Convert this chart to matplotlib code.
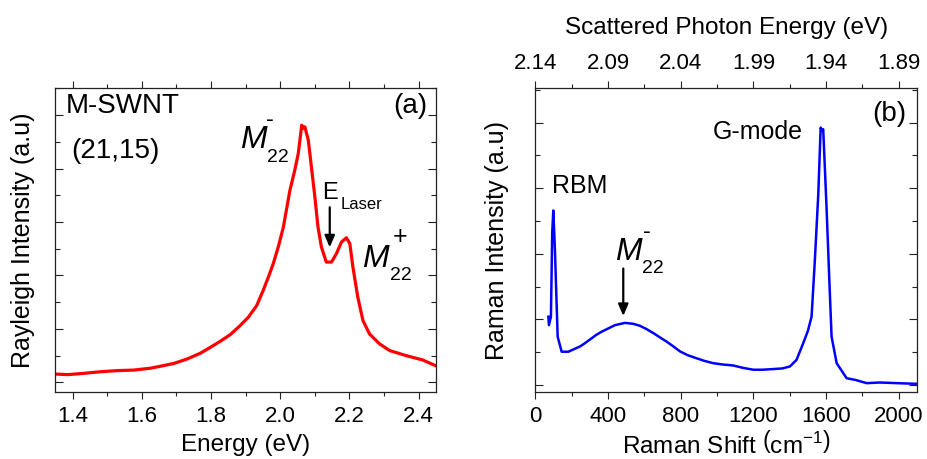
import matplotlib
matplotlib.use("Agg")
import matplotlib.pyplot as plt
from matplotlib.ticker import MultipleLocator, FormatStrFormatter

plt.rcParams['font.family'] = ['Liberation Sans', 'DejaVu Sans']
plt.rcParams['mathtext.fontset'] = 'custom'
plt.rcParams['mathtext.rm'] = 'Liberation Sans'
plt.rcParams['mathtext.it'] = 'Liberation Sans:italic'

# ---- data panel (a): Rayleigh spectrum ----
energy_ev = [1.352, 1.386, 1.434, 1.482, 1.529, 1.577, 1.625, 1.664, 1.693, 1.731,
             1.769, 1.798, 1.827, 1.856, 1.884, 1.908, 1.932, 1.951, 1.966, 1.980,
             1.995, 2.009, 2.028, 2.042, 2.052, 2.062, 2.066, 2.071, 2.081, 2.090,
             2.100, 2.109, 2.119, 2.133, 2.148, 2.162, 2.177, 2.191, 2.201, 2.210,
             2.224, 2.239, 2.258, 2.287, 2.316, 2.364, 2.411, 2.448]
rayleigh = [0.31, 0.29, 0.34, 0.40, 0.44, 0.46, 0.53, 0.63, 0.71, 0.875,
            1.09, 1.31, 1.54, 1.79, 2.125, 2.44, 2.875, 3.45, 3.95, 4.45,
            5.10, 5.81, 7.19, 7.94, 8.56, 9.62, 9.50, 9.56, 9.06, 8.06,
            6.94, 5.81, 5.06, 4.50, 4.50, 4.81, 5.25, 5.41, 5.19, 4.31,
            3.19, 2.31, 1.81, 1.44, 1.19, 1.00, 0.84, 0.63]

# ---- data panel (b): Raman spectrum ----
raman_shift = [72, 75, 86, 93, 99, 108, 112, 123, 145, 182, 246, 273, 337, 365,
               438, 493, 540, 576, 612, 649, 685, 722, 760, 796, 840, 887, 930,
               979, 1030, 1089, 1140, 1199, 1250, 1309, 1360, 1401, 1437, 1474,
               1500, 1520, 1538, 1557, 1570, 1577, 1584, 1603, 1617, 1630, 1658,
               1713, 1760, 1823, 1895, 1990, 2097]
raman = [2.08, 1.82, 2.08, 4.63, 5.32, 4.12, 3.40, 1.47, 1.01, 1.01, 1.17, 1.27,
         1.53, 1.62, 1.82, 1.89, 1.86, 1.80, 1.70, 1.58, 1.45, 1.32, 1.17, 1.02,
         0.90, 0.81, 0.73, 0.66, 0.62, 0.59, 0.52, 0.46, 0.46, 0.48, 0.50, 0.56,
         0.76, 1.27, 1.65, 2.08, 3.80, 5.83, 7.85, 7.75, 7.80, 5.32, 3.29, 1.47,
         0.66, 0.20, 0.15, 0.05, 0.07, 0.05, 0.03]

top_tick_pos = [0, 400, 800, 1200, 1600, 2000]
top_tick_labels = ["2.14", "2.09", "2.04", "1.99", "1.94", "1.89"]

W, H = 927, 459
fig = plt.figure(figsize=(W / 100, H / 100), dpi=100)

def rect(x0, x1, y0, y1):
    return [x0 / W, 1 - y1 / H, (x1 - x0) / W, (y1 - y0) / H]

axA = fig.add_axes(rect(55.3, 436, 88.3, 392))
axB = fig.add_axes(rect(535.3, 917, 88.3, 392))

edge = '#222222'
LAB = 17.5
TICK = 16
for ax in (axA, axB):
    for s in ax.spines.values():
        s.set_linewidth(0.9)
        s.set_color(edge)
    ax.tick_params(axis='x', which='both', direction='out', top=True, bottom=True,
                   labelsize=TICK, pad=5, color=edge)
    ax.tick_params(axis='x', which='major', length=5, width=0.8)
    ax.tick_params(axis='x', which='minor', length=3, width=0.8)
    ax.tick_params(axis='y', which='both', direction='in', left=True, right=True,
                   labelleft=False, color=edge)
    ax.tick_params(axis='y', which='major', length=6, width=0.8)
    ax.tick_params(axis='y', which='minor', length=3.5, width=0.8)
    ax.yaxis.set_major_locator(MultipleLocator(2))
    ax.yaxis.set_minor_locator(MultipleLocator(1))

# ---- panel (a) ----
axA.plot(energy_ev, rayleigh, color='#ff0000', lw=2.3)
axA.set_xlim(1.35, 2.45)
axA.set_ylim(-0.36, 11.0)
axA.xaxis.set_major_locator(MultipleLocator(0.2))
axA.xaxis.set_minor_locator(MultipleLocator(0.1))
axA.xaxis.set_major_formatter(FormatStrFormatter('%.1f'))
axA.set_xlabel("Energy (eV)", fontsize=LAB)
axA.set_ylabel("Rayleigh Intensity (a.u)", fontsize=18)
axA.xaxis.set_label_coords(0.5, -0.138)
axA.yaxis.set_label_coords(-0.053, 0.5)

axA.text(1.381, 10.07, "M-SWNT", fontsize=20, va='baseline', ha='left')
axA.text(1.395, 8.4, "(21,15)", fontsize=20, va='baseline', ha='left')
axA.text(2.424, 10.06, "(a)", fontsize=20, va='baseline', ha='right')

axA.text(1.884, 8.75, "M", fontsize=23, style='italic', va='baseline', ha='left')
axA.text(1.961, 8.25, "22", fontsize=14, va='baseline', ha='left')
axA.text(1.970, 9.81, "-", fontsize=17, va='center', ha='center')

axA.text(2.122, 6.875, "E", fontsize=17, va='baseline', ha='left')
axA.text(2.175, 6.5, "Laser", fontsize=12, va='baseline', ha='left')
axA.annotate("", xy=(2.143, 5.05), xytext=(2.143, 6.55),
             arrowprops=dict(arrowstyle='-|>,head_length=0.7,head_width=0.3',
                             color='black', lw=1.6, shrinkA=0, shrinkB=0))

axA.text(2.237, 4.31, "M", fontsize=23, style='italic', va='baseline', ha='left')
axA.text(2.316, 3.84, "22", fontsize=14, va='baseline', ha='left')
axA.text(2.347, 5.44, "+", fontsize=18, va='center', ha='center')

# ---- panel (b) ----
axB.plot(raman_shift, raman, color='#0000ff', lw=1.8)
axB.set_xlim(0, 2100)
axB.set_ylim(-0.22, 9.05)
axB.xaxis.set_major_locator(MultipleLocator(400))
axB.xaxis.set_minor_locator(MultipleLocator(200))
axB.set_xlabel(r"Raman Shift $\left(\mathrm{cm}^{-1}\right)$", fontsize=LAB)
axB.set_ylabel("Raman Intensity (a.u)", fontsize=18)
axB.xaxis.set_label_coords(0.5, -0.128)
axB.yaxis.set_label_coords(-0.069, 0.5)
axB.tick_params(axis='x', which='both', top=False)

top = axB.twiny()
top.set_xlim(axB.get_xlim())
top.set_xticks(top_tick_pos)
top.set_xticklabels(top_tick_labels)
top.xaxis.set_minor_locator(MultipleLocator(200))
top.tick_params(axis='x', which='both', direction='out', labelsize=TICK, pad=5, color=edge)
top.tick_params(axis='x', which='major', length=5, width=0.8)
top.tick_params(axis='x', which='minor', length=3, width=0.8)
top.set_xlabel("Scattered Photon Energy (eV)", fontsize=LAB, labelpad=14)
for s in top.spines.values():
    s.set_visible(False)

axB.text(92, 5.85, "RBM", fontsize=18, va='baseline', ha='left')
axB.text(976, 7.5, "G-mode", fontsize=18, va='baseline', ha='left')
axB.text(2043, 8.05, "(b)", fontsize=20, va='baseline', ha='right')

axB.text(438, 3.82, "M", fontsize=23, style='italic', va='baseline', ha='left')
axB.text(587, 3.41, "22", fontsize=14, va='baseline', ha='left')
axB.text(613, 4.66, "-", fontsize=17, va='center', ha='center')
axB.annotate("", xy=(484, 2.10), xytext=(484, 3.55),
             arrowprops=dict(arrowstyle='-|>,head_length=0.7,head_width=0.3',
                             color='black', lw=1.6, shrinkA=0, shrinkB=0))

fig.savefig("out.png", dpi=100)
